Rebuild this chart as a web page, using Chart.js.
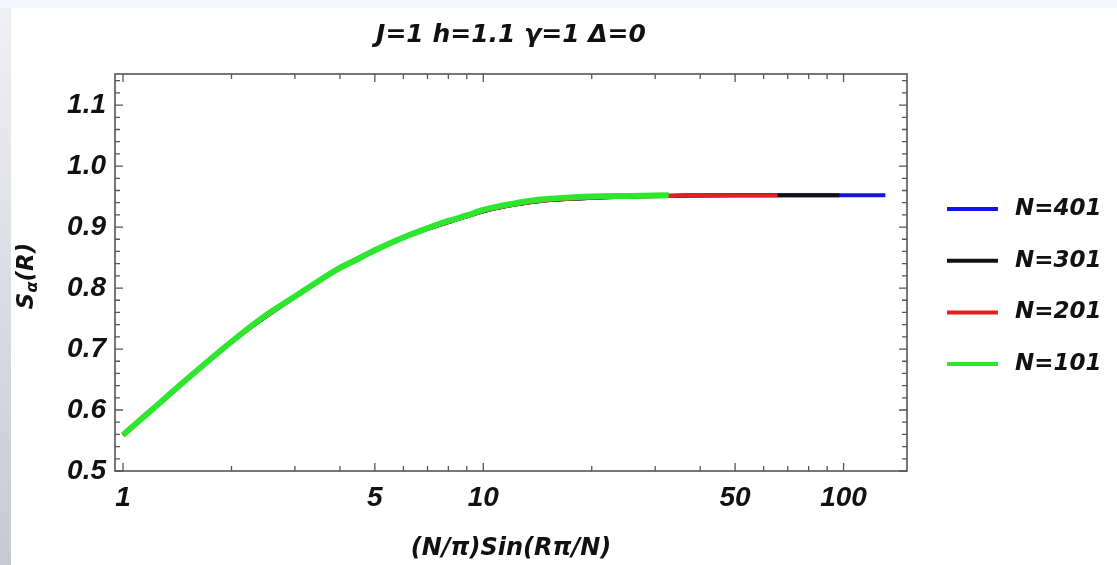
<!DOCTYPE html>
<html>
<head>
<meta charset="utf-8">
<script src="https://cdn.jsdelivr.net/npm/chart.js@4.4.1/dist/chart.umd.min.js"></script>
<style>
  html, body { margin: 0; padding: 0; background: #fff; }
  #wrap { position: relative; width: 1117px; height: 565px; overflow: hidden; }
  #topstrip { position: absolute; left: 0; top: 0; width: 1117px; height: 8px; background: #f5f7fc; }
  #leftstrip { position: absolute; left: 0; top: 8px; width: 11px; height: 557px; background: linear-gradient(#eef0f5, #c8cad3); }
  canvas { position: absolute; left: 0; top: 0; }
</style>
</head>
<body>
<div id="wrap">
  <div id="topstrip"></div>
  <div id="leftstrip"></div>
  <canvas id="chart" width="1117" height="565"></canvas>
</div>
<script>
// values
const x101 = [1, 1.25, 1.5, 2, 2.5, 3, 3.5, 4, 4.5, 5, 6, 7, 8, 9, 10, 11, 12, 13.5, 15, 17.5, 20, 25, 32.7];
const y101 = [0.559, 0.609, 0.650, 0.712, 0.756, 0.786, 0.812, 0.833, 0.848, 0.862, 0.883, 0.898, 0.910, 0.919, 0.928, 0.934, 0.938, 0.943, 0.946, 0.9485, 0.950, 0.951, 0.952];
const x201 = [1, 1.5, 2, 3, 4, 5, 6, 7, 8, 10, 12, 15, 20, 25, 32, 40, 50, 65.6];
const y201 = [0.559, 0.650, 0.712, 0.786, 0.833, 0.862, 0.883, 0.897, 0.908, 0.926, 0.936, 0.944, 0.948, 0.950, 0.951, 0.952, 0.952, 0.952];
const x301 = [1, 1.5, 2, 3, 4, 5, 6, 7, 8, 10, 12, 15, 20, 30, 50, 70, 97.4];
const y301 = [0.559, 0.650, 0.712, 0.786, 0.833, 0.862, 0.883, 0.897, 0.908, 0.926, 0.936, 0.944, 0.948, 0.951, 0.952, 0.952, 0.952];
const x401 = [1, 1.5, 2, 3, 4, 5, 6, 7, 8, 10, 12, 15, 20, 30, 50, 80, 130.6];
const y401 = [0.559, 0.650, 0.712, 0.786, 0.833, 0.862, 0.883, 0.897, 0.908, 0.926, 0.936, 0.944, 0.948, 0.951, 0.952, 0.952, 0.952];

const xTickVals = [1, 2, 3, 4, 5, 6, 7, 8, 9, 10, 20, 30, 40, 50, 60, 70, 80, 90, 100];
const xTickLabels = [1, 5, 10, 50, 100];
const yTickVals = [0.5, 0.6, 0.7, 0.8, 0.9, 1.0, 1.1];
const yMinorTicks = [0.52, 0.54, 0.56, 0.58, 0.62, 0.64, 0.66, 0.68, 0.72, 0.74, 0.76, 0.78,
  0.82, 0.84, 0.86, 0.88, 0.92, 0.94, 0.96, 0.98, 1.02, 1.04, 1.06, 1.08, 1.12, 1.14];

const titleText = 'J=1 h=1.1 γ=1 Δ=0';
const xTitle = '(N/π)Sin(Rπ/N)';

const pts = (xs, ys) => xs.map((v, i) => ({ x: v, y: ys[i] }));

// index 0 is drawn on top, so green goes first
const series = [
  { label: 'N=101', data: pts(x101, y101), color: '#2ee62e', width: 6 },
  { label: 'N=201', data: pts(x201, y201), color: '#e61e1e', width: 4 },
  { label: 'N=301', data: pts(x301, y301), color: '#111111', width: 4 },
  { label: 'N=401', data: pts(x401, y401), color: '#1414e6', width: 4 }
];

const tickFont = { family: '"Liberation Sans", Arial', size: 28, weight: 'bold', style: 'italic' };
const textFont = '"DejaVu Sans"';

const decor = {
  id: 'decor',
  afterDraw(chart) {
    const { ctx, chartArea: a, scales: { x, y } } = chart;
    ctx.save();
    // frame with inward ticks on all sides
    ctx.strokeStyle = '#555';
    ctx.lineWidth = 1.6;
    ctx.strokeRect(a.left, a.top, a.right - a.left, a.bottom - a.top);
    ctx.lineWidth = 1.3;
    ctx.beginPath();
    xTickVals.forEach(v => {
      const px = x.getPixelForValue(v);
      const len = xTickLabels.includes(v) ? 8 : 5;
      ctx.moveTo(px, a.bottom); ctx.lineTo(px, a.bottom - len);
      ctx.moveTo(px, a.top); ctx.lineTo(px, a.top + len);
    });
    yTickVals.concat(yMinorTicks).forEach(v => {
      const py = y.getPixelForValue(v);
      const len = yTickVals.includes(v) ? 8 : 5;
      ctx.moveTo(a.left, py); ctx.lineTo(a.left + len, py);
      ctx.moveTo(a.right, py); ctx.lineTo(a.right - len, py);
    });
    ctx.stroke();

    // legend, top to bottom N=401 ... N=101
    const items = chart.data.datasets.slice().reverse();
    const lx = a.right + 40, ly = a.top + 135, step = 51.7;
    ctx.font = 'italic bold 23px ' + textFont;
    ctx.textBaseline = 'middle';
    ctx.textAlign = 'left';
    items.forEach((ds, i) => {
      const cy = ly + i * step;
      ctx.strokeStyle = ds.borderColor;
      ctx.lineWidth = 4;
      ctx.beginPath();
      ctx.moveTo(lx, cy); ctx.lineTo(lx + 51, cy);
      ctx.stroke();
      ctx.fillStyle = '#111';
      ctx.fillText(ds.label, lx + 68, cy);
    });

    // x axis title
    ctx.textAlign = 'center';
    ctx.font = 'italic bold 24px ' + textFont;
    ctx.fillText(xTitle, (a.left + a.right) / 2, 549);

    // y axis title S_alpha(R)
    ctx.translate(25, 276);
    ctx.rotate(-Math.PI / 2);
    ctx.textAlign = 'left';
    ctx.textBaseline = 'alphabetic';
    const big = 'italic bold 23px ' + textFont, small = 'italic bold 16px ' + textFont;
    ctx.font = big; const wS = ctx.measureText('S').width;
    ctx.font = small; const wA = ctx.measureText('α').width;
    ctx.font = big; const wR = ctx.measureText('(R)').width;
    let cx = -(wS + wA + wR) / 2;
    const base = 8;
    ctx.font = big; ctx.fillText('S', cx, base); cx += wS;
    ctx.font = small; ctx.fillText('α', cx, base + 4); cx += wA;
    ctx.font = big; ctx.fillText('(R)', cx, base);
    ctx.restore();
  }
};

new Chart(document.getElementById('chart'), {
  type: 'scatter',
  data: {
    datasets: series.map(s => ({
      label: s.label,
      data: s.data,
      showLine: true,
      borderColor: s.color,
      backgroundColor: s.color,
      borderWidth: s.width,
      pointRadius: 0,
      cubicInterpolationMode: 'monotone',
      borderCapStyle: 'butt'
    }))
  },
  options: {
    responsive: false,
    animation: false,
    layout: { padding: { left: 0, right: 210, top: 0, bottom: 0 } },
    plugins: {
      legend: { display: false },
      tooltip: { enabled: false },
      title: {
        display: true,
        text: titleText,
        fullSize: false,
        color: '#111',
        font: { family: textFont, size: 25, weight: 'bold', style: 'italic', lineHeight: 1.2 },
        padding: { top: 20, bottom: 24 }
      }
    },
    scales: {
      x: {
        type: 'logarithmic',
        min: 0.95,
        max: 150,
        afterBuildTicks: s => { s.ticks = xTickVals.map(v => ({ value: v })); },
        afterFit: s => { s.height = 94; },
        grid: { display: false, drawTicks: false },
        border: { display: false },
        ticks: {
          autoSkip: false,
          maxRotation: 0,
          padding: 10,
          color: '#111',
          font: tickFont,
          callback: v => xTickLabels.includes(v) ? String(v) : ''
        }
      },
      y: {
        min: 0.5,
        max: 1.151,
        afterBuildTicks: s => { s.ticks = yTickVals.map(v => ({ value: v })); },
        afterFit: s => { s.width = 115; },
        grid: { display: false, drawTicks: false },
        border: { display: false },
        ticks: {
          padding: 9,
          color: '#111',
          font: tickFont,
          callback: v => Number(v).toFixed(1)
        }
      }
    }
  },
  plugins: [decor]
});
</script>
</body>
</html>
